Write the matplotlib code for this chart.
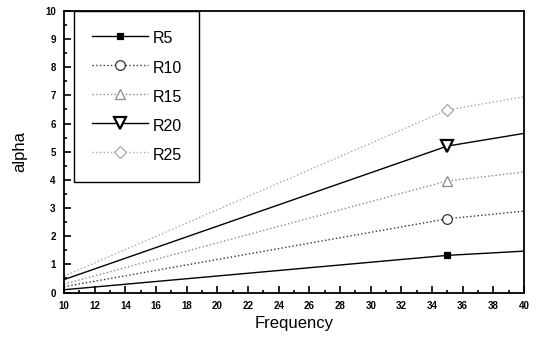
import numpy as np
import matplotlib
matplotlib.use("Agg")
import matplotlib.pyplot as plt
from matplotlib.ticker import MultipleLocator

plt.rcParams['font.family'] = ['Liberation Sans', 'DejaVu Sans']

# values (frequency -> alpha)
freq = [10, 35, 40]
r5 = [0.10, 1.32, 1.47]
r10 = [0.21, 2.62, 2.89]
r15 = [0.30, 3.96, 4.28]
r20 = [0.46, 5.20, 5.65]
r25 = [0.58, 6.48, 6.95]

labels = ['R5', 'R10', 'R15', 'R20', 'R25']
series = [r5, r10, r15, r20, r25]

# line style per series: colour, linestyle, marker, marker size, face colour
styles = [
    ('black', '-', 's', 5, 'black'),
    ('#333333', ':', 'o', 7, 'white'),
    ('#8a8a8a', ':', '^', 7, 'white'),
    ('black', '-', 'v', 8, 'white'),
    ('#a8a8a8', ':', 'D', 6, 'white'),
]

fig = plt.figure(figsize=(5.38, 3.39), dpi=100)
ax = fig.add_axes([0.119, 0.137, 0.855, 0.831])

for lab, vals, (c, ls, mk, ms, fc) in zip(labels, series, styles):
    mew = 1.6 if lab == 'R20' else 0.9
    ax.plot(freq, vals, color=c, linestyle=ls, linewidth=1.0,
            marker=mk, markersize=ms, markerfacecolor=fc,
            markeredgecolor=c, markeredgewidth=mew,
            markevery=[1], label=lab)

ax.set_xlim(10, 40)
ax.set_ylim(0, 10)
ax.xaxis.set_major_locator(MultipleLocator(2))
ax.xaxis.set_minor_locator(MultipleLocator(1))
ax.yaxis.set_major_locator(MultipleLocator(1))
ax.yaxis.set_minor_locator(MultipleLocator(0.5))
ax.tick_params(which='both', direction='in', top=False, right=False, width=1.2)
ax.tick_params(which='major', length=5, pad=6, labelsize=7)
ax.tick_params(which='minor', length=2.5)
for t in ax.get_xticklabels() + ax.get_yticklabels():
    t.set_fontweight('bold')

for s in ax.spines.values():
    s.set_linewidth(1.3)

ax.set_xlabel('Frequency', fontsize=12, labelpad=4)
ax.set_ylabel('alpha', fontsize=12, labelpad=13)

leg = ax.legend(loc='upper left', bbox_to_anchor=(0.022, 1.0), borderaxespad=0,
                fontsize=11.5, handlelength=3.5, handleheight=1.5, labelspacing=0.6,
                borderpad=1.1, handletextpad=0.3, fancybox=False, framealpha=1,
                edgecolor='black')
leg.get_frame().set_linewidth(1.0)

plt.savefig('out.png', dpi=100)
